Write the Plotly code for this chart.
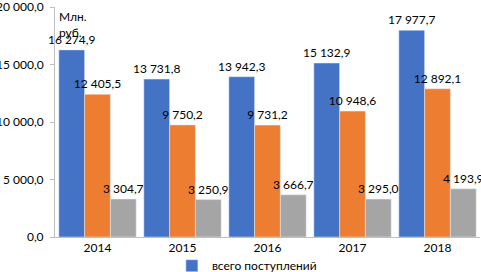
import plotly.graph_objects as go

years = ["2014", "2015", "2016", "2017", "2018"]
total = [16274.9, 13731.8, 13942.3, 15132.9, 17977.7]
own = [12405.5, 9750.2, 9731.2, 10948.6, 12892.1]
grants = [3304.7, 3250.9, 3666.7, 3295.0, 4193.9]

names = ["всего поступлений", "налоговые и неналоговые доходы", "безвозмездные поступления"]
colors = ["#4472C4", "#ED7D31", "#A5A5A5"]
series = [total, own, grants]

font = "Lato"
fig = go.Figure()
for i, (nm, vals, col) in enumerate(zip(names, series, colors)):
    fig.add_trace(go.Bar(
        x=years, y=vals, name=nm, marker_color=col,
        text=vals,
        texttemplate="%{y:,.1f}",
        textposition="outside", cliponaxis=False, constraintext="none",
        textfont=dict(family=font, size=12, color="#000000"),
        showlegend=(i == 0),
    ))

fig.update_layout(
    width=481, height=272,
    margin=dict(l=55, r=1, t=7, b=35, autoexpand=False),
    paper_bgcolor="white", plot_bgcolor="white",
    barmode="group", bargap=0.09, bargroupgap=0.0,
    separators=", ",
    font=dict(family=font, size=12, color="#000000"),
    legend=dict(orientation="h", x=0.275, xanchor="left", y=-0.125, yanchor="middle",
                font=dict(size=12), itemwidth=30, bgcolor="rgba(0,0,0,0)"),
    annotations=[dict(text="Млн.<br>руб.", xref="paper", yref="paper", x=0.005, y=1.0,
                      xanchor="left", yanchor="top", showarrow=False, align="left",
                      font=dict(family=font, size=12))],
)
fig.update_yaxes(range=[0, 20005], tickvals=[0, 5000, 10000, 15000, 20000],
                 tickformat=",.1f", showgrid=False, automargin=False,
                 ticklabeloverflow="allow", ticklabelstandoff=4,
                 showline=True, linecolor="#BFBFBF", ticks="outside", ticklen=4,
                 tickcolor="#BFBFBF", zeroline=False, tickfont=dict(size=12))
fig.update_xaxes(showline=True, linecolor="#BFBFBF", ticks="", automargin=False,
                 tickfont=dict(size=12))

fig.write_html("out.html", config={"displayModeBar": False},
               post_script="document.body.style.margin='0';document.body.style.overflow='hidden';")
